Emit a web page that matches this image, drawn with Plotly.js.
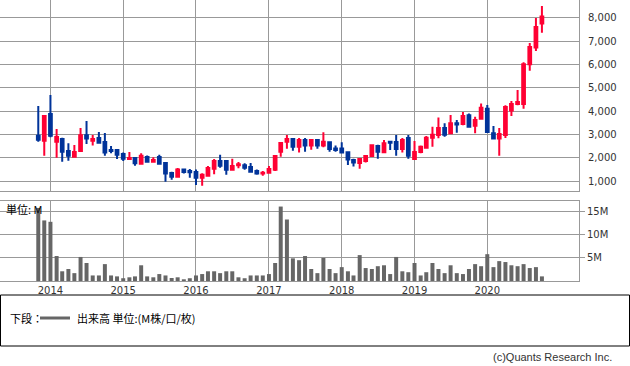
<!DOCTYPE html>
<html>
<head>
<meta charset="utf-8">
<script src="https://cdn.plot.ly/plotly-3.0.1.min.js"></script>
<style>html,body{margin:0;padding:0;background:#fff;}#chart{width:630px;height:366px;}</style>
</head>
<body>
<div id="chart"></div>
<script>
const months = ['2013-11-01','2013-12-01',
'2014-01-01','2014-02-01','2014-03-01','2014-04-01','2014-05-01','2014-06-01','2014-07-01','2014-08-01','2014-09-01','2014-10-01','2014-11-01','2014-12-01',
'2015-01-01','2015-02-01','2015-03-01','2015-04-01','2015-05-01','2015-06-01','2015-07-01','2015-08-01','2015-09-01','2015-10-01','2015-11-01','2015-12-01',
'2016-01-01','2016-02-01','2016-03-01','2016-04-01','2016-05-01','2016-06-01','2016-07-01','2016-08-01','2016-09-01','2016-10-01','2016-11-01','2016-12-01',
'2017-01-01','2017-02-01','2017-03-01','2017-04-01','2017-05-01','2017-06-01','2017-07-01','2017-08-01','2017-09-01','2017-10-01','2017-11-01','2017-12-01',
'2018-01-01','2018-02-01','2018-03-01','2018-04-01','2018-05-01','2018-06-01','2018-07-01','2018-08-01','2018-09-01','2018-10-01','2018-11-01','2018-12-01',
'2019-01-01','2019-02-01','2019-03-01','2019-04-01','2019-05-01','2019-06-01','2019-07-01','2019-08-01','2019-09-01','2019-10-01','2019-11-01','2019-12-01',
'2020-01-01','2020-02-01','2020-03-01','2020-04-01','2020-05-01','2020-06-01','2020-07-01','2020-08-01','2020-09-01','2020-10-01'];

const openP = [2950,2740,3880,2700,2810,2300,2050,2300,2970,2740,2860,2680,2340,2340,2170,1960,2000,1750,2040,1840,2040,1780,1360,1200,1510,1440,1400,1150,1240,1540,1870,1870,1500,1690,1690,1610,1440,1330,1370,1500,2270,2700,2810,2480,2770,2530,2770,2530,2670,2410,2410,2240,1910,1780,1870,2080,2510,2240,2700,2680,2380,2860,1960,2260,2440,2870,2980,3280,3060,3490,3460,3830,3380,3680,4110,3060,2830,2980,4030,4310,4310,6020,6730,7760];
const highP = [4230,3800,4700,3240,2870,2630,2560,3280,3580,2980,3110,3070,2510,2340,2230,2260,2000,2200,2110,2030,2140,1780,1410,1570,1510,1530,1510,1340,1660,1960,2140,1900,1970,1830,1770,1780,1510,1440,1660,2080,2640,2980,2810,2860,2860,2770,2810,3100,2670,2530,2670,2240,1970,1990,2110,2540,2570,2770,2720,2980,2860,2980,2730,2530,2940,3340,3730,3490,3840,3630,3970,3910,3770,4330,4270,3370,3280,4260,4440,4910,6100,6930,8000,8510];
const lowP = [2700,2100,2890,2010,1840,1880,2010,2260,2600,2530,2650,2100,2200,1960,1870,1910,1670,1750,1840,1800,1710,980,1070,1200,1330,1150,840,810,1200,1300,1580,1280,1500,1560,1500,1410,1280,1240,1370,1440,2050,2400,2310,2230,2270,2350,2400,2460,2270,2270,2230,1700,1630,1540,1810,2050,1970,2200,2340,2100,2230,1970,1960,2200,2440,2480,2840,2910,3060,3080,3400,3300,3060,3680,3110,2830,2100,2860,3800,4260,4110,5740,6580,7370];
const closeP = [2780,3800,2950,2900,2270,2100,2260,2970,2830,2810,2650,2230,2300,2140,1970,2000,1770,2100,1840,1910,1750,1330,1200,1510,1400,1390,1150,1280,1570,1870,1670,1500,1660,1730,1580,1410,1330,1370,1530,2080,2640,2810,2480,2770,2530,2770,2530,2700,2380,2340,2230,1930,1810,1960,2080,2540,2270,2630,2650,2380,2770,2100,2260,2480,2870,3000,3280,3000,3490,3430,3800,3340,3630,4150,3110,2830,3030,4180,4310,4400,6020,6760,7610,8060];
const volumeM = [15.8,13.1,12.8,5.4,2.1,2.6,1.7,5.2,3.9,1.2,
1.2,3.65,1.2,1.0,0.6,0.8,1.0,3.4,1.0,0.8,
1.5,1.2,0.65,0.8,0.37,0.6,1.2,1.5,2.1,2.1,
1.7,2.1,2.1,0.8,0.6,1.2,1.2,1.2,1.5,3.9,
16.1,13.3,4.9,4.5,5.4,2.6,1.7,5.0,2.6,1.7,
3.0,2.1,1.2,5.6,2.8,2.6,3.2,3.4,1.5,5.2,
2.1,1.9,3.9,1.2,1.9,3.9,2.6,1.7,3.4,1.7,
1.5,2.6,3.65,3.2,5.8,3.0,4.3,4.1,3.4,3.2,
3.65,2.8,3.0,1.0];
const yearTickVals = ['2014-01-01','2015-01-01','2016-01-01','2017-01-01','2018-01-01','2019-01-01','2020-01-01'];
const yearTickText = ['2014','2015','2016','2017','2018','2019','2020'];
const priceTicks = [1000,2000,3000,4000,5000,6000,7000,8000];
const volTickVals = [5,10,15];
const volTickText = ['5M','10M','15M'];

const RED = '#ff0033', BLUE = '#003399', GRID = '#999999';
const W = 579, H = 281;
const px = v => v / W;
const py = v => (H - v) / H;

const traces = [
  {
    type: 'candlestick', x: months, open: openP, high: highP, low: lowP, close: closeP,
    xaxis: 'x', yaxis: 'y', whiskerwidth: 0, hoverinfo: 'none',
    increasing: {line: {color: RED, width: 2}, fillcolor: RED},
    decreasing: {line: {color: BLUE, width: 2}, fillcolor: BLUE}
  },
  {
    type: 'bar', x: months, y: volumeM, xaxis: 'x2', yaxis: 'y2',
    marker: {color: '#666666'}, width: 20 * 86400000, hoverinfo: 'none'
  }
];

const tickFont = {family: 'DejaVu Sans', size: 10, color: '#333'};
const xCommon = {
  type: 'date', range: ['2013-04-23', '2021-04-05'], showgrid: true, gridcolor: GRID, gridwidth: 1,
  tickmode: 'array', tickvals: yearTickVals, ticktext: yearTickText,
  showline: true, mirror: true, linecolor: GRID, linewidth: 1,
  zeroline: false, ticks: '', fixedrange: true
};

const layout = {
  width: 630, height: 366,
  margin: {l: 0, r: 51, t: 0, b: 85},
  paper_bgcolor: '#fff', plot_bgcolor: '#fff', showlegend: false,
  boxgap: 0.3,
  xaxis: Object.assign({}, xCommon, {anchor: 'y', showticklabels: false, rangeslider: {visible: false}}),
  xaxis2: Object.assign({}, xCommon, {anchor: 'y2', showticklabels: true, tickfont: tickFont, matches: 'x'}),
  yaxis: {
    domain: [(H - 191) / H, 1], side: 'right', range: [584, 8771], tickvals: priceTicks, tickformat: ',d',
    showgrid: true, gridcolor: GRID, showline: true, mirror: true, linecolor: GRID, zeroline: false,
    ticks: 'outside', ticklen: 6, tickcolor: 'rgba(0,0,0,0)', tickfont: tickFont, anchor: 'x'
  },
  yaxis2: {
    domain: [0, (H - 201) / H], side: 'right', range: [0, 17.3], tickvals: volTickVals, ticktext: volTickText,
    showgrid: true, gridcolor: GRID, showline: true, mirror: true, linecolor: GRID, zeroline: false,
    ticks: 'outside', ticklen: 5, tickcolor: GRID, tickfont: tickFont, anchor: 'x2'
  },
  shapes: [
    {type: 'rect', xref: 'paper', yref: 'paper', x0: px(0.5), x1: px(629.5), y0: py(346), y1: py(295), line: {color: '#000', width: 1}},
    {type: 'line', xref: 'paper', yref: 'paper', x0: px(40), x1: px(70), y0: py(318), y1: py(318), line: {color: '#666', width: 3}}
  ],
  annotations: [
    {text: '単位: M', xref: 'paper', yref: 'paper', x: px(4), y: py(209), xanchor: 'left', yanchor: 'middle', showarrow: false, font: {family: 'Noto Sans CJK JP', size: 11, color: '#000'}},
    {text: '下段：', xref: 'paper', yref: 'paper', x: px(8), y: py(318), xanchor: 'left', yanchor: 'middle', showarrow: false, font: {family: 'Noto Sans CJK JP', size: 11, color: '#000'}},
    {text: '出来高 単位:(M株/口/枚)', xref: 'paper', yref: 'paper', x: px(75), y: py(318), xanchor: 'left', yanchor: 'middle', showarrow: false, font: {family: 'Noto Sans CJK JP', size: 11, color: '#000'}},
    {text: '(c)Quants Research Inc.', xref: 'paper', yref: 'paper', x: px(614), y: py(357), xanchor: 'right', yanchor: 'middle', showarrow: false, font: {family: 'Liberation Sans', size: 11, color: '#333'}}
  ]
};

Plotly.newPlot('chart', traces, layout, {staticPlot: true, displayModeBar: false});
</script>
</body>
</html>
